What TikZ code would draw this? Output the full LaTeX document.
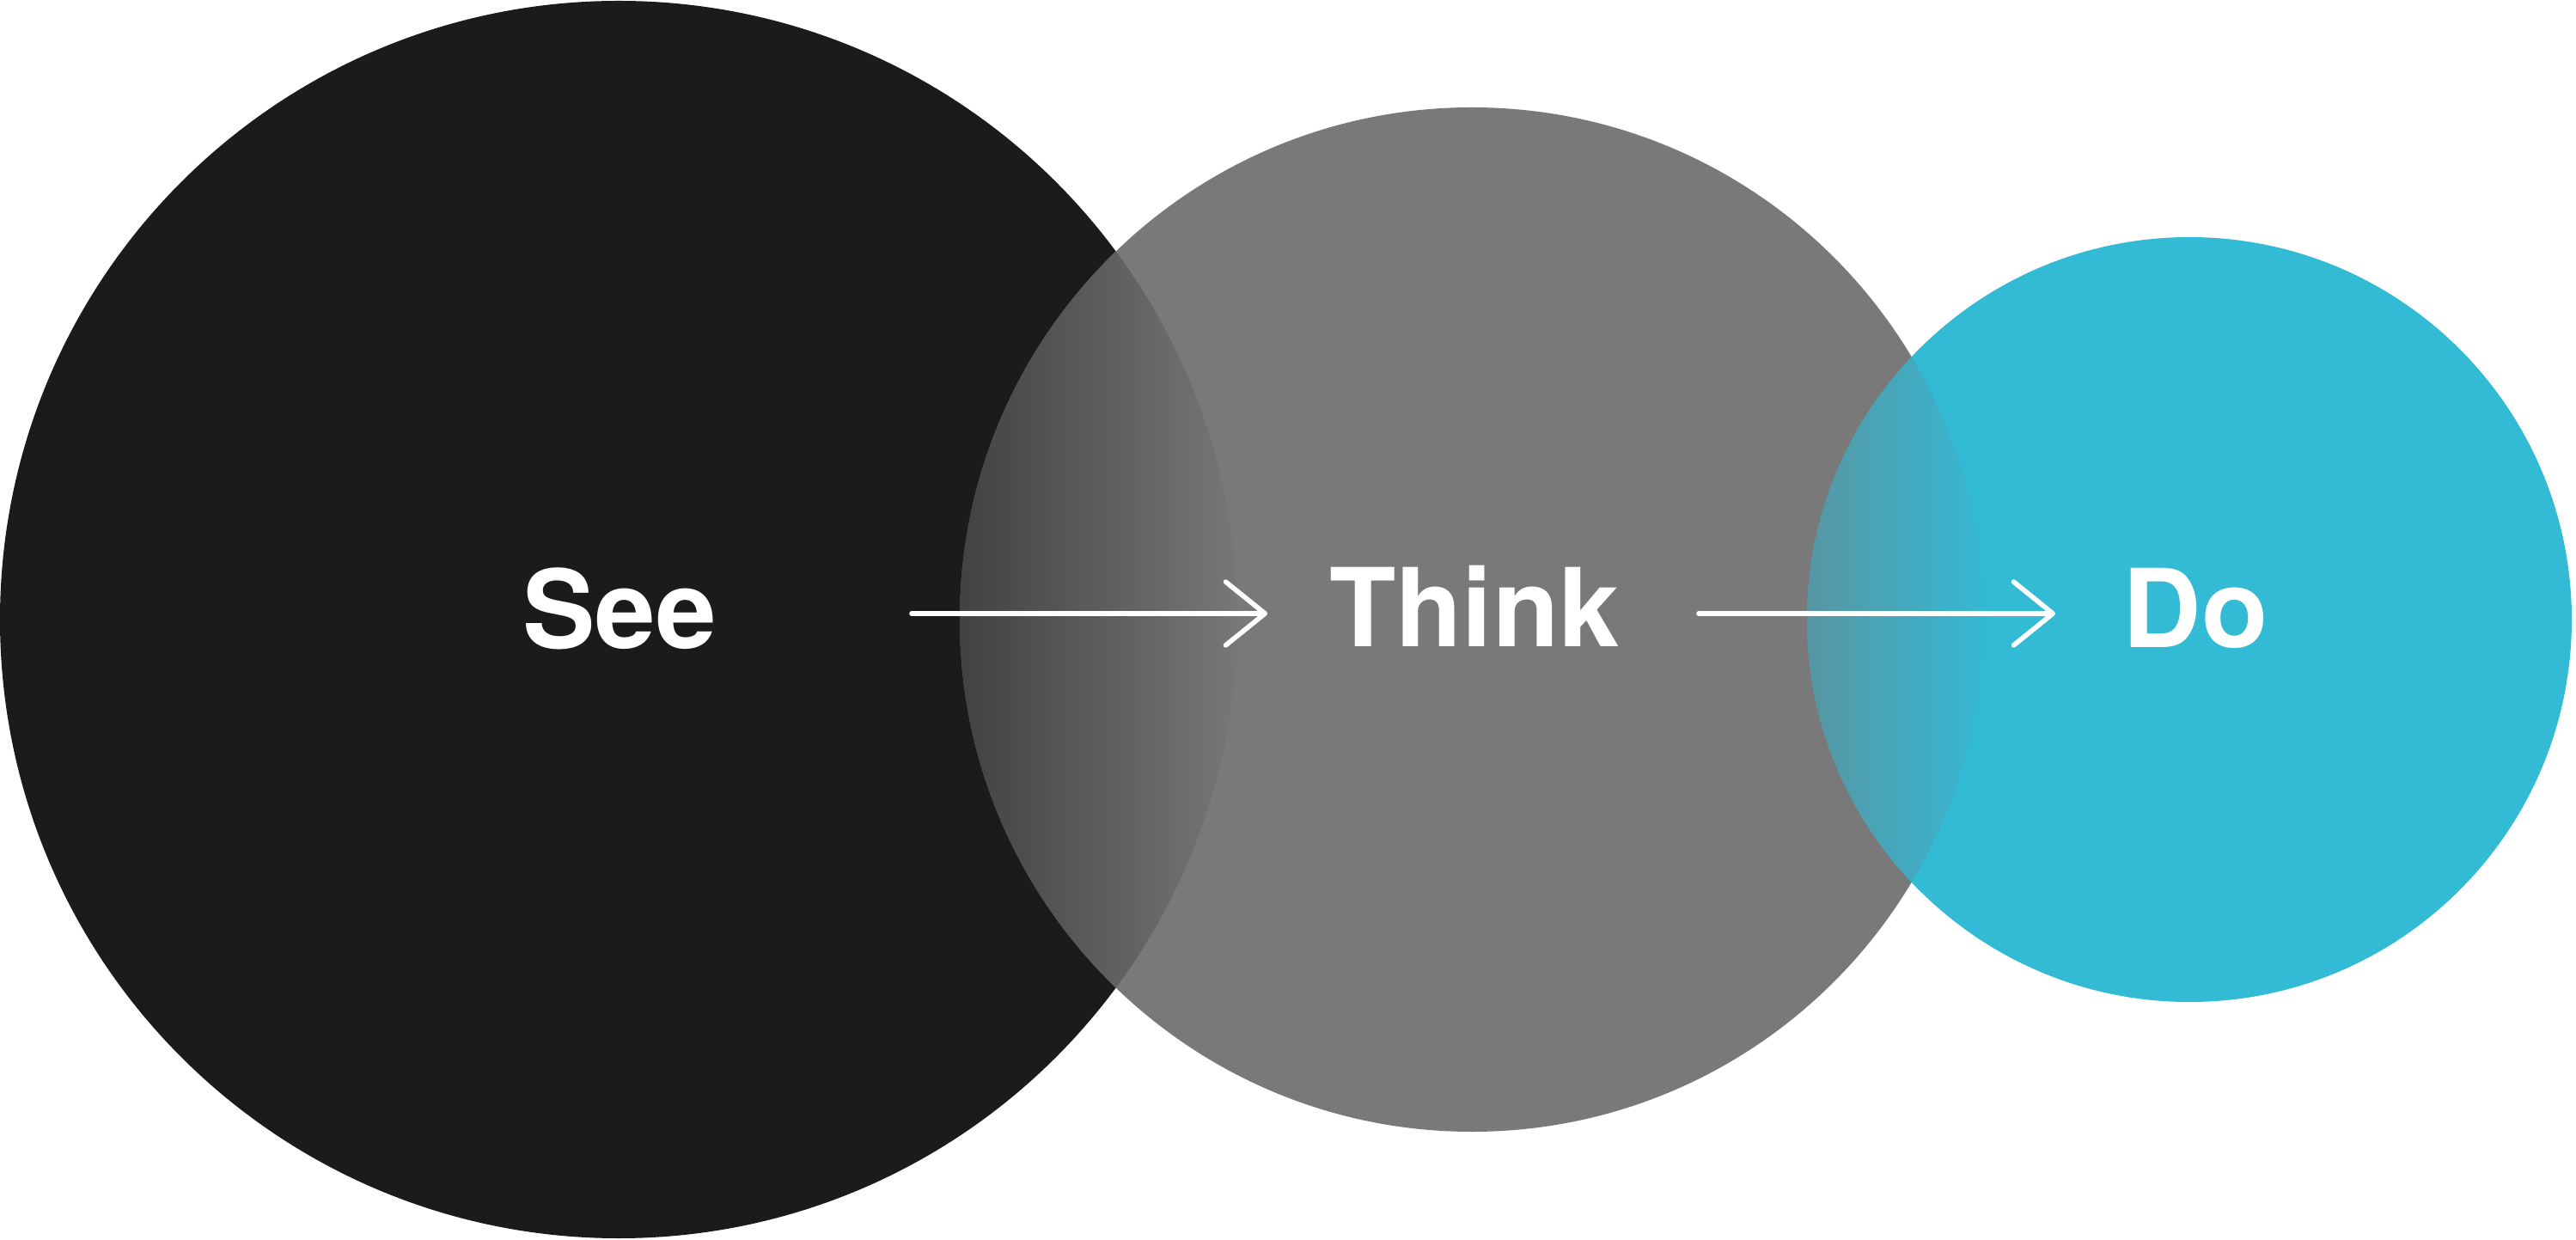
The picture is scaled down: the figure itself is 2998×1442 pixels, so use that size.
\documentclass[tikz,border=0pt]{standalone}
\usepackage{fontspec}
\setmainfont{TeX Gyre Heros}
\usetikzlibrary{arrows.meta}
\definecolor{darkc}{HTML}{1B1B1B}
\definecolor{greyc}{HTML}{797979}
\definecolor{cyanc}{HTML}{33BAD5}
\definecolor{lensAl}{HTML}{424242}
\definecolor{lensAr}{HTML}{777777}
\definecolor{lensBl}{HTML}{5696A3}
\definecolor{lensBr}{HTML}{36B8D3}
\tikzset{
  lbl/.style={text=white, font=\bfseries\fontsize{36}{40}\selectfont, anchor=base, inner sep=0pt},
  flow/.style={draw=white, line width=1.6pt, line cap=round, line join=round,
    -{Straight Barb[length=13pt,width=21pt,line cap=round,line join=round]}}
}
\begin{document}
\begin{tikzpicture}[x=0.01cm,y=0.01cm]
\useasboundingbox (0,0) rectangle (2998,1442);
\fill[white] (0,0) rectangle (2998,1442);
% circles
\fill[darkc] (720,721) circle (720);
\fill[greyc] (1713,721) circle (596);
\fill[cyanc] (2548,721) circle (445);
% lens black/grey
\begin{scope}
  \clip (720,721) circle (720);
  \clip (1713,721) circle (596);
  \shade[left color=lensAl, right color=lensAr] (1117,0) rectangle (1440,1442);
\end{scope}
% lens grey/cyan
\begin{scope}
  \clip (1713,721) circle (596);
  \clip (2548,721) circle (445);
  \shade[left color=lensBl, right color=lensBr] (2103,0) rectangle (2309,1442);
\end{scope}
% labels
\node[lbl] (see) at (721,687) {See};
\node[lbl] (think) at (1716,689) {Think};
\node[lbl] (do) at (2555,688) {Do};
% arrows
\coordinate (a1s) at (1061,728);
\coordinate (a1e) at (1475,728);
\coordinate (a2s) at (1977,728);
\coordinate (a2e) at (2392,728);
\draw[flow] (a1s) -- (a1e);
\draw[flow] (a2s) -- (a2e);
\end{tikzpicture}
\end{document}
